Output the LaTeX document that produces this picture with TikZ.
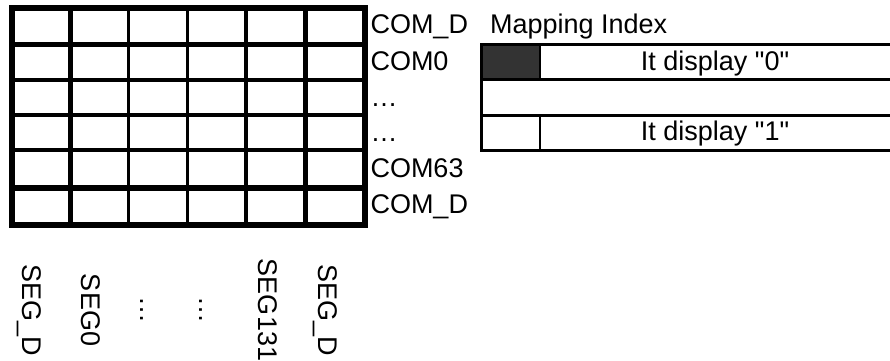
\documentclass[tikz,border=0pt]{standalone}
\usepackage{fontspec}
\setmainfont{Liberation Sans}
\begin{document}
\begin{tikzpicture}[x=1pt,y=-1pt,
  lbl/.style={font=\fontsize{27}{30}\selectfont, inner sep=0pt, outer sep=0pt},
  rlbl/.style={lbl, anchor=base west},
  seglbl/.style={lbl, anchor=base, rotate=-90},
  tbl/.style={line width=2.6pt},
  darkcell/.style={fill=darkfill}]
\definecolor{darkfill}{HTML}{333333}
\useasboundingbox (0,0) rectangle (890,360);
\clip (0,0) rectangle (890,360);
% grid
\draw[line width=6pt] (12,7.5) rectangle (365,225);
\foreach \x/\w in {70.8/5pt,128.8/3pt,187.7/3.3pt,246/3.3pt,305.8/5pt}
  \draw[line width=\w] (\x,7.5) -- (\x,225);
\foreach \y/\w in {44.8/5pt,79.7/4pt,115/3.3pt,150/3.3pt,187.8/5.7pt}
  \draw[line width=\w] (12,\y) -- (365,\y);
% COM labels
\node[rlbl] (comdtop) at (370.5,33) {COM\_D};
\node[rlbl] (com0) at (370.5,70) {COM0};
\node[rlbl] (dotsa) at (370.5,106) {…};
\node[rlbl] (dotsb) at (370.5,141) {…};
\node[rlbl] (com63) at (370.5,177) {COM63};
\node[rlbl] (comdbot) at (370.5,213) {COM\_D};
\node[rlbl] (mapidx) at (490,33) {Mapping Index};
% mapping table
\fill[darkcell] (481.5,44.5) rectangle (540,79.5);
\draw[tbl] (480,44.5) -- (890,44.5);
\draw[tbl] (480,79.5) -- (890,79.5);
\draw[tbl] (480,115.5) -- (890,115.5);
\draw[tbl] (480,150.5) -- (890,150.5);
\draw[tbl] (481.5,44.5) -- (481.5,150.5);
\draw[tbl] (540,44.5) -- (540,79.5);
\draw[tbl] (540,115.5) -- (540,150.5);
\node[lbl, anchor=base] (disp0) at (715,70.5) {It display \textquotedbl 0\textquotedbl};
\node[lbl, anchor=base] (disp1) at (715,140.5) {It display \textquotedbl 1\textquotedbl};
% SEG labels
\node[seglbl] (segdl) at (22.7,310) {SEG\_D};
\node[seglbl] (seg0) at (81.5,310) {SEG0};
\node[seglbl] (sdotsa) at (140.5,310) {…};
\node[seglbl] (sdotsb) at (199,310) {…};
\node[seglbl] (seg131) at (258.5,310) {SEG131};
\node[seglbl] (segdr) at (318,310) {SEG\_D};
\end{tikzpicture}
\end{document}
